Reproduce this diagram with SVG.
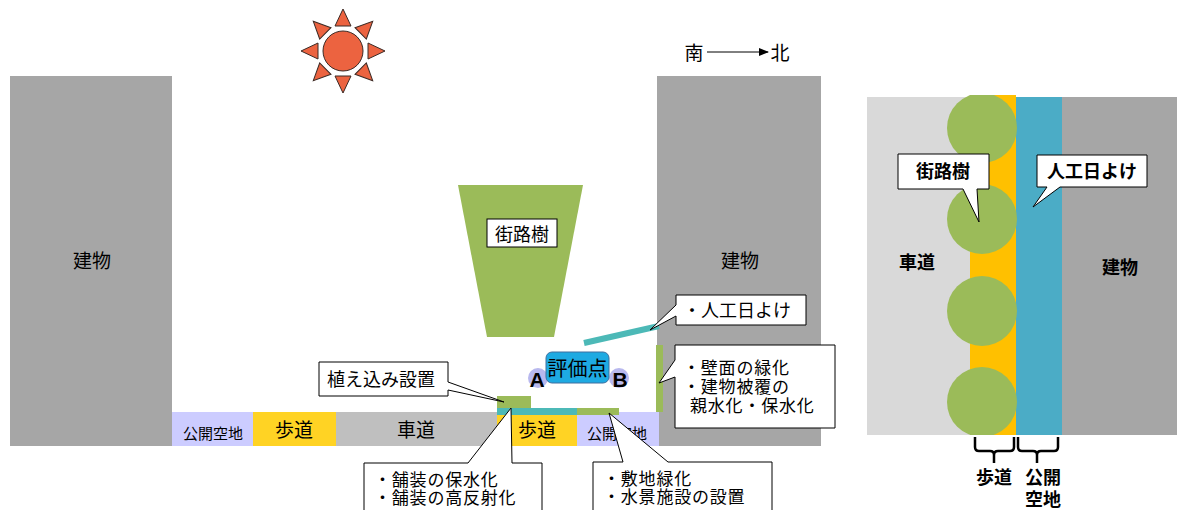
<svg xmlns="http://www.w3.org/2000/svg" width="1177" height="510" viewBox="0 0 1177 510">
  <style>
    text { font-family: "Noto Sans CJK JP", "Noto Sans", sans-serif; fill: #000; }
    .lbl { font-size: 18px; }
    .note { font-size: 17px; letter-spacing: 0.8px; }
    .bld { font-size: 18px; font-weight: bold; }
    .mid { text-anchor: middle; }
    .callout { fill: #fff; stroke: #000; stroke-width: 1; }
    .bldg { fill: #a6a6a6; }
    .road { fill: #bfbfbf; }
    .walk { fill: #ffd324; }
    .open { fill: #ccccff; }
    .green { fill: #9bbb59; }
    .ray { fill: #ec6340; stroke: #3b2a25; stroke-width: 1; }
    .latin { font-family: "Liberation Sans", Arial, sans-serif; font-size: 21px; font-weight: bold; text-anchor: middle; }
    .brace { fill: none; stroke: #000; stroke-width: 2.5; stroke-linejoin: round; }
  </style>
  <defs>
    <marker id="arrowHead" viewBox="0 0 10 10" refX="9" refY="5" markerWidth="10" markerHeight="10" markerUnits="userSpaceOnUse" orient="auto">
      <path d="M0,1 L10,5 L0,9 Z" fill="#000"/>
    </marker>
    <path id="sunRay" d="M0,-42 L8,-25 L-8,-25 Z"/>
    <clipPath id="planClip">
      <rect x="867" y="95" width="310" height="340"/>
    </clipPath>
  </defs>

  <rect width="1177" height="510" fill="#fff"/>

  <!-- Sun -->
  <g id="sun" transform="translate(343,51)">
    <use href="#sunRay" class="ray"/>
    <use href="#sunRay" class="ray" transform="rotate(45)"/>
    <use href="#sunRay" class="ray" transform="rotate(90)"/>
    <use href="#sunRay" class="ray" transform="rotate(135)"/>
    <use href="#sunRay" class="ray" transform="rotate(180)"/>
    <use href="#sunRay" class="ray" transform="rotate(225)"/>
    <use href="#sunRay" class="ray" transform="rotate(270)"/>
    <use href="#sunRay" class="ray" transform="rotate(315)"/>
    <circle r="20" class="ray"/>
  </g>

  <!-- Orientation -->
  <g id="orientation">
    <text x="694" y="60" class="lbl mid" style="font-size:19px">南</text>
    <text x="780" y="60" class="lbl mid" style="font-size:19px">北</text>
  </g>

  <!-- Cross-section: buildings -->
  <g id="building-south">
    <rect x="10" y="76" width="162" height="370" class="bldg"/>
    <text x="92" y="268" class="lbl mid" style="font-size:19px">建物</text>
  </g>
  <g id="building-north">
    <rect x="657" y="76" width="164" height="370" class="bldg"/>
    <text x="740" y="268" class="lbl mid" style="font-size:19px">建物</text>
  </g>

  <!-- Cross-section: ground strips -->
  <g id="open-space-south">
    <rect x="172" y="412" width="81" height="34" class="open"/>
    <text x="213" y="439" class="mid" style="font-size:15px">公開空地</text>
  </g>
  <g id="sidewalk-south">
    <rect x="253" y="412" width="83" height="34" class="walk"/>
    <text x="294" y="437" class="mid" style="font-size:19px">歩道</text>
  </g>
  <g id="roadway">
    <rect x="336" y="412" width="161" height="34" class="road"/>
    <text x="416" y="437" class="mid" style="font-size:19px">車道</text>
  </g>
  <g id="sidewalk-north">
    <rect x="497" y="412" width="80" height="34" class="walk"/>
    <text x="537" y="437" class="mid" style="font-size:19px">歩道</text>
  </g>
  <g id="open-space-north">
    <rect x="577" y="412" width="82" height="34" class="open"/>
    <text x="617" y="439" class="mid" style="font-size:15px">公開空地</text>
  </g>

  <!-- Street tree -->
  <g id="street-tree">
    <path d="M458,185 L583,185 L554,337 L487,337 Z" class="green"/>
    <rect x="487" y="219" width="70" height="28" class="callout"/>
    <text x="522" y="241" class="lbl mid">街路樹</text>
  </g>

  <!-- Measures drawn on the section -->
  <g id="measures">
    <line x1="584" y1="343" x2="659" y2="326" stroke="#4cb9b7" stroke-width="6"/>
    <rect x="656" y="345" width="7" height="67" class="green"/>
    <rect x="497" y="396" width="34" height="12" class="green"/>
    <rect x="497" y="408" width="80" height="7" fill="#4cb9b7"/>
    <rect x="577" y="408" width="42" height="7" class="green"/>
  </g>

  <!-- Evaluation point -->
  <g id="eval-point">
    <circle cx="538" cy="378" r="10" fill="#b8b8ee"/>
    <circle cx="619" cy="378" r="10" fill="#b8b8ee"/>
    <rect x="546" y="352" width="63" height="31" rx="6" fill="#1eaae2" stroke="#3e6f9e" stroke-width="1"/>
    <text x="577.5" y="376" class="mid" style="font-size:20px">評価点</text>
    <text x="537" y="387" class="latin">A</text>
    <text x="620" y="387" class="latin">B</text>
  </g>

  <!-- Callouts on the section -->
  <g id="callout-sunshade">
    <path d="M676,295 H806 V325 H676 V316 L650,330 L676,305 Z" class="callout"/>
    <text x="683" y="317" class="lbl">・人工日よけ</text>
  </g>
  <g id="callout-wall">
    <path d="M675,345 H835 V428 H675 V377 L659,383 L675,360 Z" class="callout"/>
    <text x="683" y="374" class="note">・壁面の緑化</text>
    <text x="683" y="393" class="note">・建物被覆の</text>
    <text x="690" y="412" class="note">親水化・保水化</text>
  </g>
  <g id="callout-planting">
    <path d="M319,362 H448 V382 L504,402 L448,390 V396 H319 Z" class="callout"/>
    <text x="327" y="386" class="lbl">植え込み設置</text>
  </g>
  <g id="callout-paving">
    <path d="M364,520 V463 H468 L511,408 L512,463 H542 V520" class="callout"/>
    <text x="374" y="486" class="note">・舗装の保水化</text>
    <text x="374" y="504" class="note">・舗装の高反射化</text>
  </g>
  <g id="callout-site">
    <path d="M593,520 V462 H623 L609,413 L668,462 H772 V520" class="callout"/>
    <text x="603" y="485" class="note">・敷地緑化</text>
    <text x="603" y="503" class="note">・水景施設の設置</text>
  </g>

  <!-- Plan view -->
  <g id="plan-roadway">
    <rect x="867" y="97" width="103" height="338" fill="#d9d9d9"/>
    <text x="917" y="269" class="bld mid">車道</text>
  </g>
  <g id="plan-sidewalk">
    <rect x="970" y="95" width="46" height="340" fill="#ffc000"/>
  </g>
  <g id="plan-sunshade">
    <rect x="1016" y="97" width="46" height="338" fill="#4bacc6"/>
  </g>
  <g id="plan-building">
    <rect x="1062" y="97" width="115" height="338" fill="#a6a6a6"/>
    <text x="1120" y="274" class="bld mid">建物</text>
  </g>
  <g id="plan-trees" clip-path="url(#planClip)">
    <circle cx="982" cy="128" r="35" class="green"/>
    <circle cx="982" cy="219" r="35" class="green"/>
    <circle cx="982" cy="311" r="35" class="green"/>
    <circle cx="982" cy="402" r="35" class="green"/>
  </g>
  <g id="plan-callout-tree">
    <path d="M898,154 H989 V189 H977 L979,222 L963,189 H898 Z" class="callout"/>
    <text x="943" y="178" class="bld mid">街路樹</text>
  </g>
  <g id="plan-callout-sunshade">
    <path d="M1037,155 H1147 V187 H1060 L1033,207 L1047,187 H1037 Z" class="callout"/>
    <text x="1092" y="178" class="bld mid">人工日よけ</text>
  </g>
  <g id="plan-labels">
    <text x="994" y="484" class="bld mid">歩道</text>
    <text x="1043" y="484" class="bld mid">公開</text>
    <text x="1043" y="506" class="bld mid">空地</text>
  </g>

  <!-- Connectors -->
  <g id="connectors">
    <line x1="707" y1="52" x2="768" y2="52" stroke="#000" stroke-width="1" marker-end="url(#arrowHead)"/>
    <path d="M975,437 V447 Q975,451 979,451 H990 Q994,451 994,455 V463 M994,455 Q994,451 998,451 H1010 Q1014,451 1014,447 V437" class="brace"/>
    <path d="M1018,437 V447 Q1018,451 1022,451 H1033 Q1037,451 1037,455 V463 M1037,455 Q1037,451 1041,451 H1054 Q1058,451 1058,447 V437" class="brace"/>
  </g>
</svg>
